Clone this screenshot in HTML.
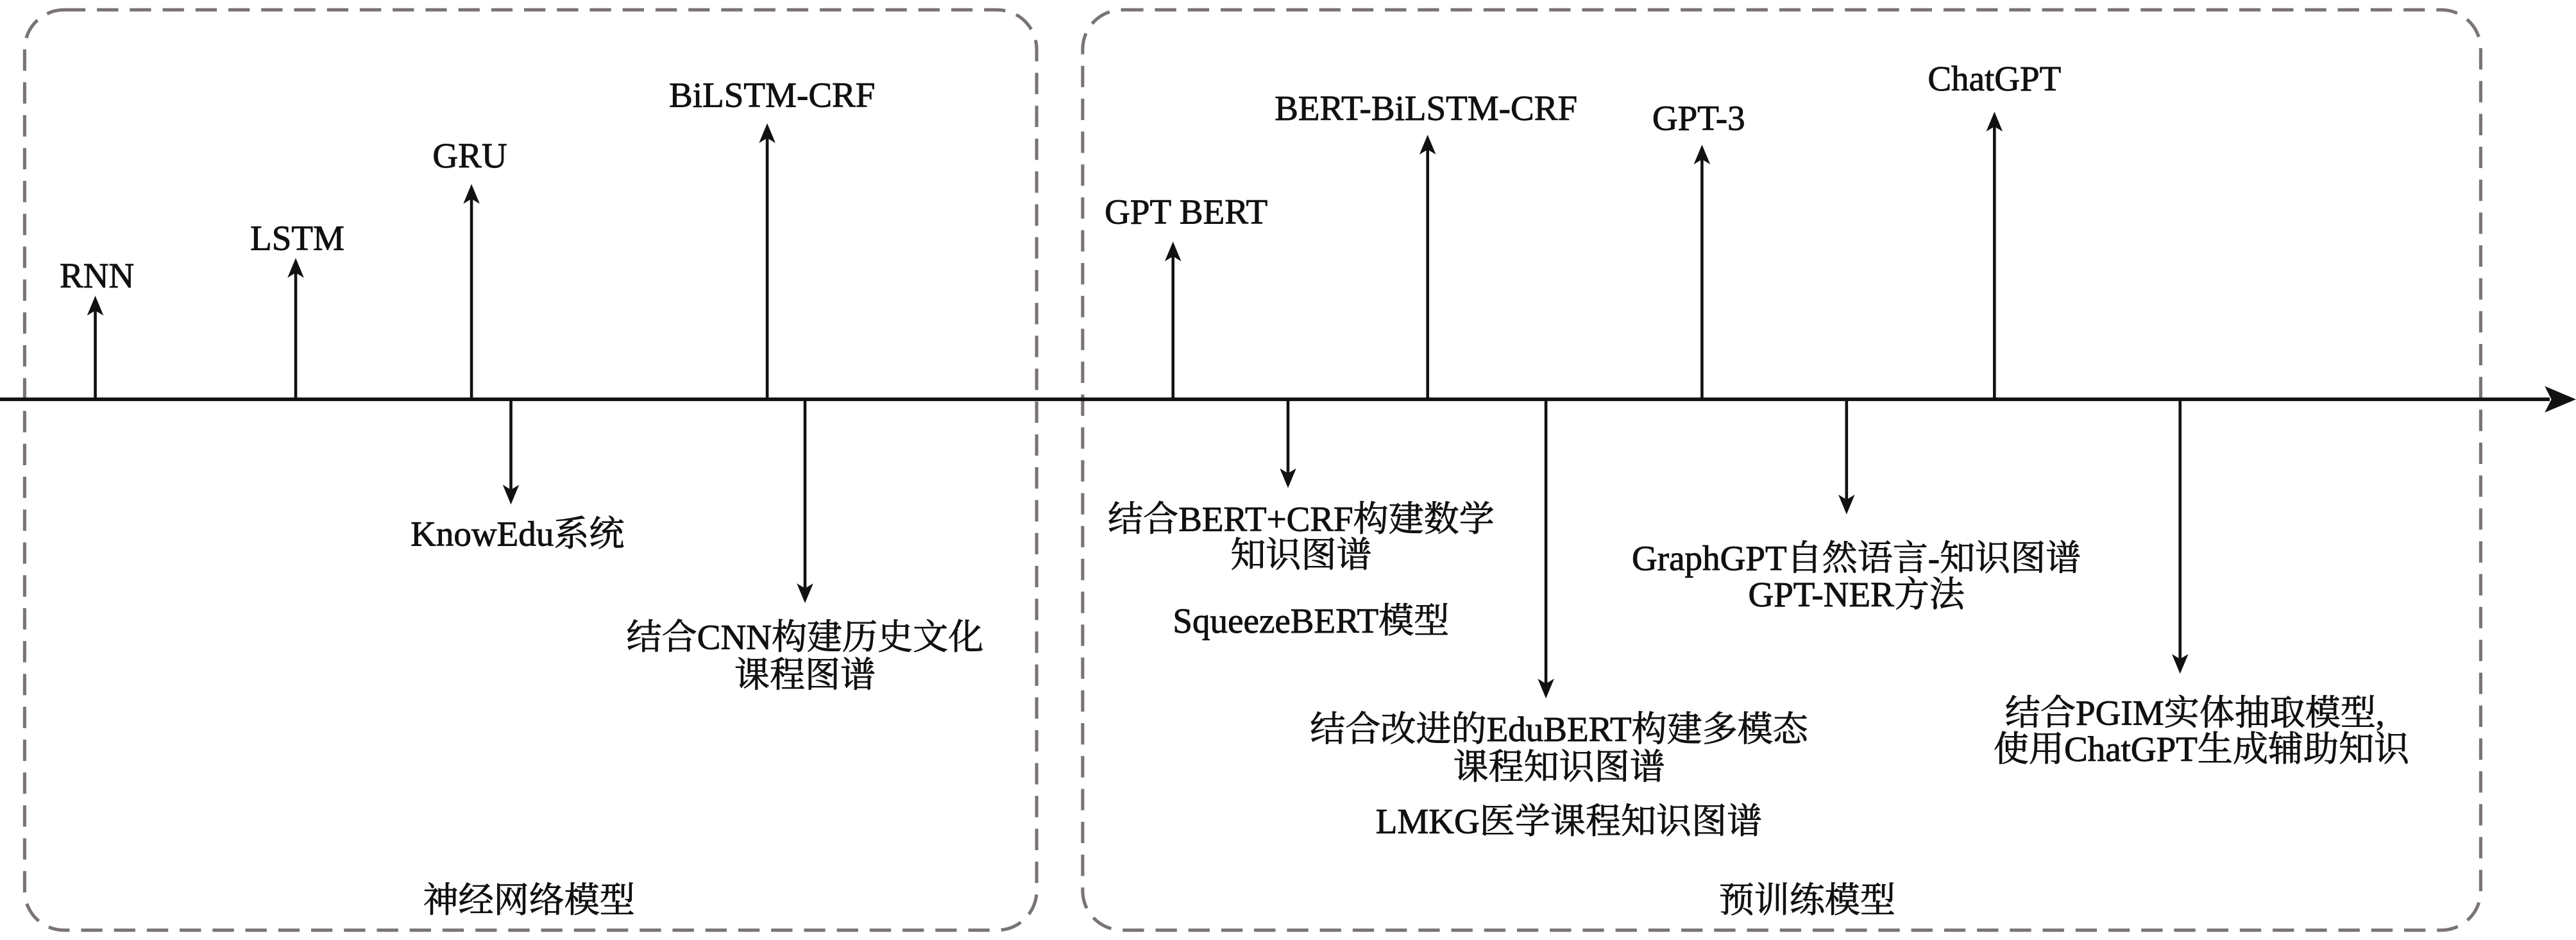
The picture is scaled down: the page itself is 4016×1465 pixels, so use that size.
<!DOCTYPE html>
<html><head><meta charset="utf-8"><style>
html,body{margin:0;padding:0;background:#fff;}
svg{display:block;}
text{font-family:"Liberation Serif","Noto Serif CJK SC",serif;font-size:21.5px;fill:#111;stroke:#111;stroke-width:0.35;text-anchor:middle;}
</style></head><body>
<svg width="4016" height="1465" viewBox="0 0 1568 572" preserveAspectRatio="none" xmlns="http://www.w3.org/2000/svg">
<g fill="none" stroke="#7a7474" stroke-width="2" stroke-dasharray="13,7">
<rect x="15" y="6" width="616" height="560" rx="24"/>
<rect x="659" y="6" width="851" height="560" rx="24"/>
</g>
<line x1="0" y1="243" x2="1552" y2="243" stroke="#111" stroke-width="2.2"/>
<polygon points="1568,243 1549,235 1553,243 1549,251" fill="#111"/>
<g stroke="#111" stroke-width="1.8">
<line x1="58" y1="243" x2="58" y2="188"/>
<line x1="180" y1="243" x2="180" y2="165"/>
<line x1="287" y1="243" x2="287" y2="120"/>
<line x1="467" y1="243" x2="467" y2="83"/>
<line x1="714" y1="243" x2="714" y2="155"/>
<line x1="869" y1="243" x2="869" y2="90"/>
<line x1="1036" y1="243" x2="1036" y2="96"/>
<line x1="1214" y1="243" x2="1214" y2="76"/>
<line x1="311" y1="243" x2="311" y2="298"/>
<line x1="490" y1="243" x2="490" y2="358"/>
<line x1="784" y1="243" x2="784" y2="288"/>
<line x1="941" y1="243" x2="941" y2="416"/>
<line x1="1124" y1="243" x2="1124" y2="304"/>
<line x1="1327" y1="243" x2="1327" y2="401"/>
</g>
<g fill="#111">
<path d="M58,180 l-5,12 l5,-3 l5,3z"/>
<path d="M180,157 l-5,12 l5,-3 l5,3z"/>
<path d="M287,112 l-5,12 l5,-3 l5,3z"/>
<path d="M467,75 l-5,12 l5,-3 l5,3z"/>
<path d="M714,147 l-5,12 l5,-3 l5,3z"/>
<path d="M869,82 l-5,12 l5,-3 l5,3z"/>
<path d="M1036,88 l-5,12 l5,-3 l5,3z"/>
<path d="M1214,68 l-5,12 l5,-3 l5,3z"/>
<path d="M311,307 l-5,-12 l5,3 l5,-3z"/>
<path d="M490,367 l-5,-12 l5,3 l5,-3z"/>
<path d="M784,297 l-5,-12 l5,3 l5,-3z"/>
<path d="M941,425 l-5,-12 l5,3 l5,-3z"/>
<path d="M1124,313 l-5,-12 l5,3 l5,-3z"/>
<path d="M1327,410 l-5,-12 l5,3 l5,-3z"/>
</g>
<text x="59" y="175">RNN</text>
<text x="181" y="152">LSTM</text>
<text x="286" y="102">GRU</text>
<text x="470" y="65">BiLSTM-CRF</text>
<text x="722" y="136">GPT BERT</text>
<text x="868" y="73">BERT-BiLSTM-CRF</text>
<text x="1034" y="79">GPT-3</text>
<text x="1214" y="55">ChatGPT</text>
<text x="315" y="332">KnowEdu系统</text>
<text x="490" y="395">结合CNN构建历史文化</text>
<text x="490" y="418">课程图谱</text>
<text x="792" y="323">结合BERT+CRF构建数学</text>
<text x="792" y="345">知识图谱</text>
<text x="798" y="385">SqueezeBERT模型</text>
<text x="949" y="451">结合改进的EduBERT构建多模态</text>
<text x="949" y="474">课程知识图谱</text>
<text x="955" y="507">LMKG医学课程知识图谱</text>
<text x="1130" y="347">GraphGPT自然语言-知识图谱</text>
<text x="1130" y="369">GPT-NER方法</text>
<text x="1336" y="441">结合PGIM实体抽取模型,</text>
<text x="1340" y="463">使用ChatGPT生成辅助知识</text>
<text x="322" y="555">神经网络模型</text>
<text x="1100" y="555">预训练模型</text>
</svg>
</body></html>
